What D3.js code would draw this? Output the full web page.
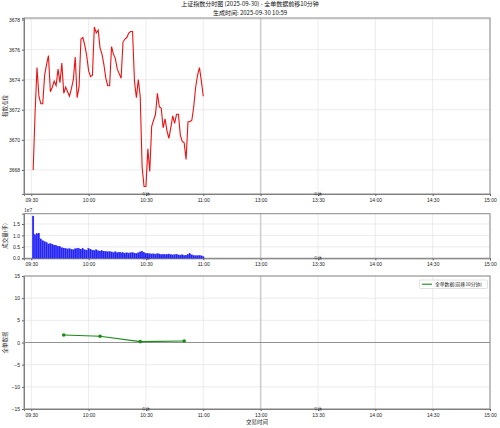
<!DOCTYPE html>
<html>
<head>
<meta charset="utf-8">
<script src="https://cdn.jsdelivr.net/npm/d3@7"></script>
<style>
  body { margin: 0; background: #fff; }
  svg { font-family: "Noto Sans CJK SC", "DejaVu Sans", sans-serif; }
  .tick text { font-size: 5px; fill: #222; }
  .domain { stroke: #777; }
</style>
</head>
<body>
<svg id="chart" width="500" height="428"></svg>
<script>
// minute index since 09:30 (lunch break removed)
var minutes = d3.range(1, 91);
var price = [3668.0, 3671.8, 3674.8, 3672.9, 3672.4, 3672.4, 3674.3, 3675.0, 3675.6, 3673.2,
  3673.5, 3673.9, 3673.6, 3674.7, 3673.8, 3675.1, 3673.1, 3673.5, 3673.2, 3672.9,
  3673.4, 3674.0, 3675.5, 3672.8, 3673.5, 3676.7, 3676.8, 3676.3, 3675.6, 3674.6,
  3674.2, 3674.3, 3677.5, 3677.1, 3677.3, 3676.1, 3675.7, 3675.0, 3674.1, 3673.6,
  3673.6, 3676.2, 3675.7, 3675.4, 3674.7, 3674.4, 3674.1, 3676.5, 3676.7, 3676.8,
  3677.1, 3677.2, 3677.2, 3673.9, 3672.8, 3674.0, 3672.9, 3668.2, 3666.9, 3666.9,
  3669.4, 3667.9, 3670.9, 3671.3, 3671.7, 3673.1, 3672.2, 3672.1, 3670.8, 3671.4,
  3670.6, 3670.1, 3670.8, 3671.6, 3671.1, 3671.7, 3671.7, 3670.3, 3669.9, 3669.8,
  3668.7, 3671.2, 3671.2, 3671.3, 3672.2, 3673.5, 3674.3, 3674.8, 3673.9, 3672.9];
// volume in units of 1e7
var volume = [1.85, 1.03, 1.08, 1.10, 0.85, 0.78, 0.74, 0.70, 0.63, 0.65,
  0.62, 0.58, 0.57, 0.53, 0.52, 0.47, 0.45, 0.44, 0.41, 0.43,
  0.40, 0.38, 0.42, 0.44, 0.43, 0.40, 0.42, 0.38, 0.36, 0.44,
  0.40, 0.36, 0.35, 0.38, 0.33, 0.32, 0.34, 0.30, 0.31, 0.29,
  0.30, 0.28, 0.26, 0.29, 0.25, 0.27, 0.24, 0.25, 0.22, 0.25,
  0.23, 0.24, 0.26, 0.23, 0.22, 0.24, 0.28, 0.31, 0.26, 0.22,
  0.20, 0.21, 0.19, 0.20, 0.18, 0.21, 0.19, 0.17, 0.18, 0.16,
  0.17, 0.19, 0.17, 0.15, 0.16, 0.18, 0.15, 0.14, 0.16, 0.13,
  0.14, 0.17, 0.20, 0.16, 0.13, 0.12, 0.12, 0.13, 0.11, 0.08];
var orderMinutes = [17, 36, 57, 80];
var orderValues = [1.7, 1.4, 0.2, 0.35];
var tickPos = [0, 30, 60, 90, 120, 150, 180, 210, 240];
var tickLabels = ["09:30", "10:00", "10:30", "11:00", "13:00", "13:30", "14:00", "14:30", "15:00"];
var priceTicks = [3668, 3670, 3672, 3674, 3676, 3678];
var volTicks = [0, 0.5, 1.0, 1.5];
var orderTicks = [-15, -10, -5, 0, 5, 10, 15];

var svg = d3.select("#chart");
var left = 24, right = 490;
var x = d3.scaleLinear().domain([-3.8, 240]).range([left, right]);

var panels = [
  { top: 18, bottom: 194, label: "指数点位" },
  { top: 213.7, bottom: 258.3, label: "成交量(手)" },
  { top: 276, bottom: 409, label: "全单数据" }
];

var yPrice = d3.scaleLinear().domain([3666.4, 3678.1]).range([panels[0].bottom, panels[0].top]);
var yVol = d3.scaleLinear().domain([0, 1.95]).range([panels[1].bottom, panels[1].top]);
var yOrder = d3.scaleLinear().domain([-15, 15]).range([panels[2].bottom, panels[2].top]);
var yScales = [yPrice, yVol, yOrder];
var yTickSets = [priceTicks, volTicks, orderTicks];
var yFormats = [d3.format("d"), d3.format(".1f"), d3.format("d")];

panels.forEach(function(p, k) {
  var g = svg.append("g");
  var y = yScales[k];
  // grid
  g.selectAll(".vg").data(tickPos).enter().append("line")
    .attr("x1", function(d) { return x(d); }).attr("x2", function(d) { return x(d); })
    .attr("y1", p.top).attr("y2", p.bottom)
    .attr("stroke", "#e4e4e4").attr("stroke-width", 0.7);
  g.selectAll(".hg").data(yTickSets[k]).enter().append("line")
    .attr("x1", left).attr("x2", right)
    .attr("y1", function(d) { return y(d); }).attr("y2", function(d) { return y(d); })
    .attr("stroke", "#e4e4e4").attr("stroke-width", 0.7);
  // lunch break line
  g.append("line")
    .attr("x1", x(120)).attr("x2", x(120)).attr("y1", p.top).attr("y2", p.bottom)
    .attr("stroke", "#cfcfcf").attr("stroke-width", 1.6);
  // axes
  g.append("g").attr("transform", "translate(0," + p.bottom + ")")
    .call(d3.axisBottom(x).tickValues(tickPos).tickFormat(function(d, i) { return tickLabels[i]; })
      .tickSize(2).tickPadding(2));
  g.append("g").attr("transform", "translate(" + left + ",0)")
    .call(d3.axisLeft(y).tickValues(yTickSets[k]).tickFormat(yFormats[k]).tickSize(2).tickPadding(2));
  g.append("rect").attr("x", left).attr("y", p.top)
    .attr("width", right - left).attr("height", p.bottom - p.top)
    .attr("fill", "none").attr("stroke", "#888").attr("stroke-width", 1);
  // small markers near 10:30 and 13:30
  [60, 150].forEach(function(t) {
    g.append("text").attr("x", x(t)).attr("y", p.bottom + 1.5)
      .attr("text-anchor", "middle").attr("font-size", 4).attr("fill", "#333").text("午休");
  });
  // y label
  g.append("text")
    .attr("transform", "translate(7," + ((p.top + p.bottom) / 2) + ") rotate(-90)")
    .attr("text-anchor", "middle").attr("font-size", 5.5).attr("fill", "#222")
    .text(p.label);
});

svg.selectAll(".tick line").attr("stroke", "#555");

// price line
svg.append("path").datum(minutes)
  .attr("fill", "none").attr("stroke", "#ee1111").attr("stroke-width", 1.1)
  .attr("d", d3.line().x(function(d) { return x(d); }).y(function(d, i) { return yPrice(price[i]); }));

// volume bars
var bw = x(1) - x(0);
svg.selectAll(".vol").data(minutes).enter().append("rect")
  .attr("x", function(d) { return x(d) - bw / 2; })
  .attr("y", function(d, i) { return yVol(volume[i]); })
  .attr("width", bw * 0.9)
  .attr("height", function(d, i) { return yVol(0) - yVol(volume[i]); })
  .attr("fill", "#2222ff").attr("stroke", "#3333ee").attr("stroke-width", 0.2);
svg.append("text").attr("x", left).attr("y", panels[1].top - 2)
  .attr("font-size", 5).attr("fill", "#222").text("1e7");

// order data panel
svg.append("line").attr("x1", left).attr("x2", right)
  .attr("y1", yOrder(0)).attr("y2", yOrder(0))
  .attr("stroke", "#888").attr("stroke-width", 0.9);
svg.append("path").datum(orderMinutes)
  .attr("fill", "none").attr("stroke", "#1a8a1a").attr("stroke-width", 1.1)
  .attr("d", d3.line().x(function(d) { return x(d); }).y(function(d, i) { return yOrder(orderValues[i]); }));
svg.selectAll(".pt").data(orderMinutes).enter().append("circle")
  .attr("cx", function(d) { return x(d); })
  .attr("cy", function(d, i) { return yOrder(orderValues[i]); })
  .attr("r", 1.8).attr("fill", "#1a8a1a");

// legend
var lg = svg.append("g");
lg.append("rect").attr("x", 419.5).attr("y", 280).attr("width", 68).attr("height", 8.5)
  .attr("fill", "#fff").attr("stroke", "#ccc").attr("stroke-width", 0.6).attr("rx", 1);
lg.append("line").attr("x1", 422).attr("x2", 432).attr("y1", 284.2).attr("y2", 284.2)
  .attr("stroke", "#1a8a1a").attr("stroke-width", 1.1);
lg.append("text").attr("x", 435).attr("y", 286).attr("font-size", 4.8).attr("fill", "#222")
  .text("全单数据(前移10分钟)");

// x label
svg.append("text").attr("x", (left + right) / 2).attr("y", 424)
  .attr("text-anchor", "middle").attr("font-size", 5.5).attr("fill", "#222").text("交易时间");

// title
svg.append("text").attr("x", 250).attr("y", 5.8).attr("text-anchor", "middle")
  .attr("font-size", 6).attr("fill", "#111").text("上证指数分时图 (2025-09-30) - 全单数据前移10分钟");
svg.append("text").attr("x", 250).attr("y", 14.6).attr("text-anchor", "middle")
  .attr("font-size", 6).attr("fill", "#111").text("生成时间: 2025-09-30 10:59");
</script>
</body>
</html>
